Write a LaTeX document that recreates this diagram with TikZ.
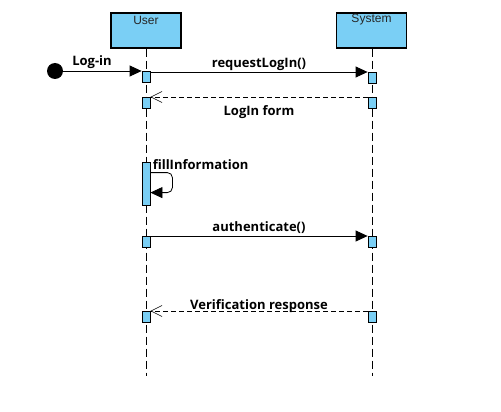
\documentclass[tikz,border=0pt]{standalone}
\usepackage{fontspec}
\setmainfont{Open Sans}
\newfontfamily\boxfont{Liberation Sans}
\usetikzlibrary{arrows.meta}
\usetikzlibrary{calc}
\definecolor{lifeblue}{RGB}{122,207,245}

\begin{document}
\begin{tikzpicture}[x=1pt,y=-1pt,line width=0.8pt,>={Triangle[length=12pt,width=11pt]},
    obj/.style={draw,line width=1.2pt,fill=lifeblue,minimum width=70pt,minimum height=35pt,inner sep=0pt},
    act/.style={draw,fill=lifeblue,minimum width=8pt,minimum height=11pt,inner sep=0pt},
    life/.style={dash pattern=on 8pt off 4pt},
    reply/.style={dash pattern=on 5pt off 3pt,-{Straight Barb[length=11pt,width=11pt,line width=0.6pt]}},
    msg/.style={font=\bfseries\fontsize{13}{15}\selectfont,inner sep=1pt}]
            \useasboundingbox (0,0) rectangle (501,412);
            \node[obj] (U) at (146,30.5) {};
            \node[obj] (S) at (371.5,30.5) {};
            \node[font=\boxfont\fontsize{12}{13}\selectfont,text=black!85] at (146,20) {User};
            \node[font=\boxfont\fontsize{12}{13}\selectfont,text=black!85] at (371.5,20) {System};
            \coordinate (Uend) at (146,376);
            \coordinate (Send) at (372,376);
            \draw[life] (U) -- (Uend);
            \draw[life] (S.south -| Send) -- (Send);
            \node[circle,fill=black,minimum size=16pt,inner sep=0pt] (start) at (55,71) {};
            \node[act] (u1) at (146,76.5) {};
            \node[act] (s1) at (372,78) {};
            \node[act] (u2) at (146,102.5) {};
            \node[act] (s2) at (372,102.5) {};
            \node[act,minimum height=43pt] (u3) at (146,183.5) {};
            \node[act] (u4) at (146,241.5) {};
            \node[act] (s4) at (372,241.5) {};
            \node[act] (u5) at (146,317) {};
            \node[act] (s5) at (372,317) {};
            \draw[->] (start) -- (start -| u1.west);
            \node[msg] at (92,62) {Log-in};
            \draw[->] (u1.east |- 0,72) -- (s1.west |- 0,72) node[msg,midway,above,yshift=0pt]{requestLogIn()};
            \draw[reply] (s2.west |- 0,97) -- (u2.east |- 0,97) node[msg,midway,below,yshift=-7pt]{LogIn form};
            \draw[->,rounded corners=5pt] ($(u3.north east)+(0,11)$) -- ++(22,0) -- ++(0,20) -- ($(u3.north east)+(0,31)$);
            \node[msg,anchor=south west] at ($(u3.north east)+(1,9)$) {fillInformation};
            \draw[->] (u4.east |- 0,236) -- (s4.west |- 0,236) node[msg,midway,above,yshift=1pt]{authenticate()};
            \draw[reply] (s5.west |- 0,311) -- (u5.east |- 0,311) node[msg,midway,above,yshift=-3pt]{Verification response};
        \end{tikzpicture}
\end{document}
